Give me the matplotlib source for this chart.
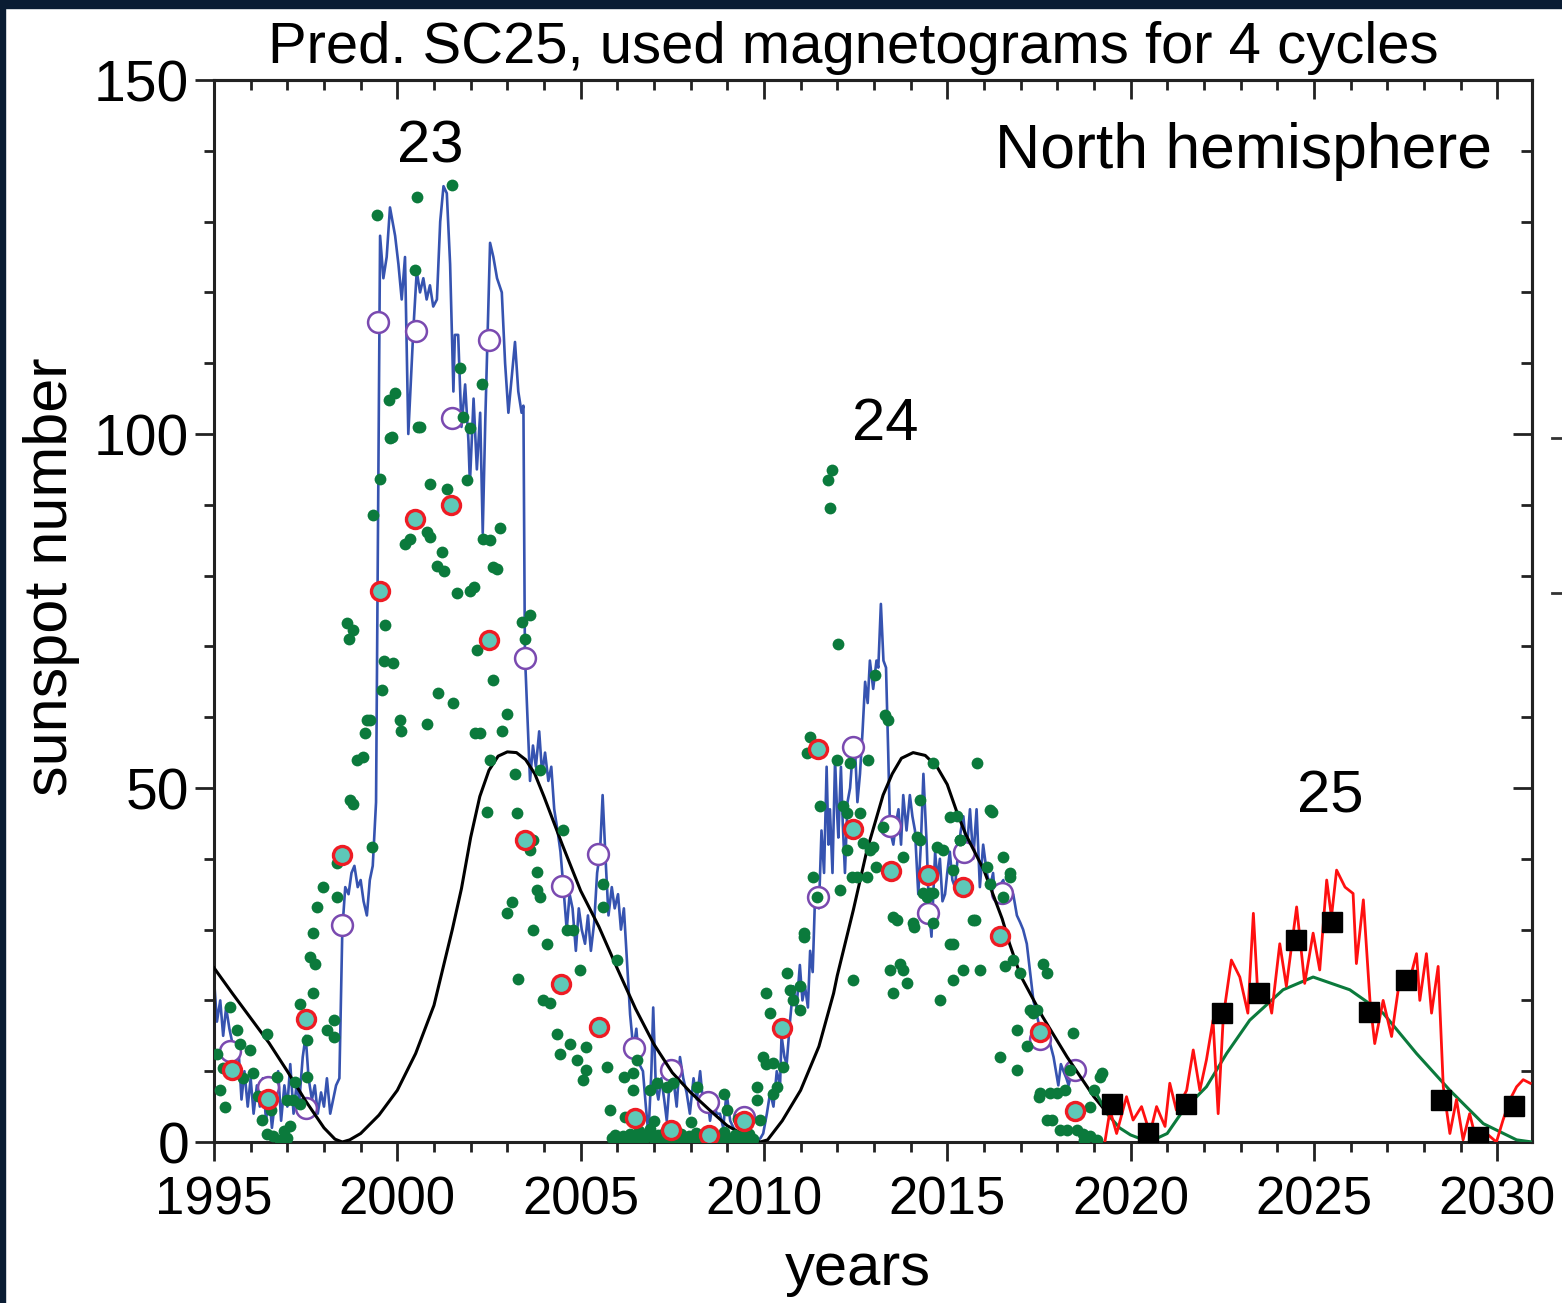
import matplotlib.pyplot as plt
from matplotlib.patches import Rectangle
from matplotlib.lines import Line2D

plt.rcParams['font.family'] = ['Liberation Sans', 'DejaVu Sans']

# observed monthly sunspot number, north hemisphere (blue line)
obs_year = [1995.00, 1995.08, 1995.17, 1995.25, 1995.33, 1995.42, 1995.50, 1995.58, 1995.67, 1995.75,
            1995.83, 1995.92, 1996.00, 1996.08, 1996.17, 1996.25, 1996.33, 1996.42, 1996.50, 1996.58,
            1996.67, 1996.75, 1996.83, 1996.92, 1997.00, 1997.08, 1997.17, 1997.25, 1997.33, 1997.42,
            1997.50, 1997.58, 1997.67, 1997.75, 1997.83, 1997.92, 1998.00, 1998.08, 1998.17, 1998.25,
            1998.33, 1998.42, 1998.50, 1998.58, 1998.67, 1998.75, 1998.83, 1998.92, 1999.00, 1999.08,
            1999.17, 1999.25, 1999.33, 1999.42, 1999.53, 1999.62, 1999.71, 1999.80, 1999.94, 2000.03,
            2000.12, 2000.21, 2000.30, 2000.44, 2000.53, 2000.62, 2000.71, 2000.80, 2000.89, 2000.98,
            2001.08, 2001.17, 2001.26, 2001.35, 2001.44, 2001.53, 2001.57, 2001.66, 2001.75, 2001.85,
            2001.94, 2001.98, 2002.08, 2002.17, 2002.26, 2002.33, 2002.40, 2002.53, 2002.62, 2002.72,
            2002.85, 2002.94, 2003.03, 2003.12, 2003.21, 2003.30, 2003.39, 2003.44, 2003.48, 2003.55,
            2003.62, 2003.70, 2003.78, 2003.87, 2003.95, 2004.03, 2004.12, 2004.20, 2004.28, 2004.37,
            2004.45, 2004.53, 2004.62, 2004.70, 2004.78, 2004.87, 2004.95, 2005.03, 2005.12, 2005.20,
            2005.28, 2005.37, 2005.45, 2005.53, 2005.60, 2005.68, 2005.76, 2005.85, 2005.93, 2006.02,
            2006.10, 2006.18, 2006.27, 2006.35, 2006.44, 2006.52, 2006.60, 2006.70, 2006.78, 2006.85,
            2006.93, 2006.98, 2007.05, 2007.12, 2007.20, 2007.28, 2007.35, 2007.45, 2007.55, 2007.62,
            2007.71, 2007.80, 2007.89, 2007.98, 2008.08, 2008.17, 2008.26, 2008.35, 2008.44, 2008.53,
            2008.62, 2008.71, 2008.80, 2008.89, 2008.98, 2009.08, 2009.17, 2009.26, 2009.35, 2009.44,
            2009.53, 2009.62, 2009.71, 2009.80, 2009.90, 2009.98, 2010.08, 2010.17, 2010.26, 2010.35,
            2010.44, 2010.48, 2010.56, 2010.62, 2010.71, 2010.80, 2010.89, 2010.98, 2011.05, 2011.12,
            2011.20, 2011.26, 2011.33, 2011.39, 2011.44, 2011.50, 2011.57, 2011.64, 2011.71, 2011.76,
            2011.80, 2011.87, 2011.94, 2012.00, 2012.03, 2012.10, 2012.15, 2012.21, 2012.28, 2012.35,
            2012.42, 2012.48, 2012.55, 2012.62, 2012.69, 2012.76, 2012.83, 2012.89, 2012.98, 2013.07,
            2013.12, 2013.19, 2013.26, 2013.33, 2013.39, 2013.44, 2013.53, 2013.60, 2013.67, 2013.74,
            2013.80, 2013.89, 2013.98, 2014.05, 2014.12, 2014.21, 2014.28, 2014.35, 2014.44, 2014.50,
            2014.57, 2014.67, 2014.73, 2014.80, 2014.87, 2014.94, 2015.00, 2015.07, 2015.14, 2015.21,
            2015.30, 2015.37, 2015.44, 2015.53, 2015.62, 2015.71, 2015.80, 2015.89, 2015.98, 2016.08,
            2016.17, 2016.25, 2016.30, 2016.40, 2016.53, 2016.62, 2016.71, 2016.80, 2016.90, 2016.99,
            2017.07, 2017.17, 2017.26, 2017.35, 2017.44, 2017.53, 2017.62, 2017.72, 2017.80, 2017.90,
            2018.03, 2018.10, 2018.17, 2018.25, 2018.31, 2018.40, 2018.50]
obs_ssn = [23, 17, 20, 15, 19, 16, 14, 11, 13, 6,
           10, 5, 9, 4, 8, 5, 9, 3, 7, 2,
           6, 10, 3, 8, 5, 11, 4, 8, 6, 12,
           15, 9, 6, 8, 4, 7, 5, 9, 4, 6,
           8, 9, 30, 36, 35, 38, 39, 36, 37, 34,
           32, 37, 39, 48, 128, 122, 125, 132, 128, 124,
           119, 125, 100, 115, 123, 120, 122, 119, 121, 118,
           119, 130, 135, 134, 124, 106, 114, 114, 101, 107,
           99, 93, 105, 95, 103, 86, 102, 127, 125, 122,
           120, 110, 103, 108, 113, 106, 103, 104, 69, 60,
           51, 56, 53, 58, 52, 55, 51, 53, 47, 44,
           41, 36, 30, 35, 33, 27, 33, 30, 28, 32,
           27, 31, 38, 41, 49, 40, 32, 36, 33, 35,
           30, 33, 25, 18, 13, 16, 11, 10, 5, 1,
           10, 19, 8, 6, 9, 6, 3, 10, 8, 5,
           12, 9, 7, 4, 9, 6, 10, 5, 7, 3,
           6, 4, 4, 2, 7, 3, 2, 1, 1, 0.5,
           1, 2, 0.5, 0.3, 0.5, 1.2, 4, 7, 5, 10,
           8, 15, 12, 11, 17, 22, 19, 25, 20, 22,
           19, 27, 24, 34, 35, 33, 44, 38, 53, 42,
           47, 38, 54, 46, 43, 53, 45, 38, 48, 50,
           55, 56, 48, 52, 58, 65, 62, 68, 64, 68,
           67, 76, 68, 67, 55, 44, 42, 45, 47, 42,
           49, 44, 49, 46, 44, 35, 42, 52, 42, 33,
           29, 41, 37, 40, 34, 35, 38, 41, 37, 36,
           41, 44, 46, 41, 47, 40, 47, 36, 42, 38,
           36, 38, 35, 36, 37, 34, 35, 35, 32, 31,
           30, 28, 24, 20, 18, 16, 15, 13.5, 14, 12,
           8, 11, 10, 9, 8, 10, 9]

# additional monthly values (green dots)
dot_year = [1995.07, 1995.16, 1995.25, 1995.30, 1995.44, 1995.62, 1995.71, 1995.80, 1995.98, 1996.07,
            1996.20, 1996.30, 1996.44, 1996.44, 1996.55, 1996.62, 1996.71, 1996.80, 1996.90, 1996.98,
            1997.00, 1997.07, 1997.16, 1997.20, 1997.35, 1997.35, 1997.53, 1997.53, 1997.62, 1997.71,
            1997.71, 1997.76, 1997.80, 1997.98, 1998.07, 1998.26, 1998.26, 1998.35, 1998.35, 1998.80,
            1999.30, 1998.71, 1998.90, 1999.07, 1999.12, 1999.17, 1999.25, 1999.57, 1999.65, 1999.89,
            1998.62, 1998.80, 1998.67, 1999.67, 1999.35, 1999.53, 1999.80, 1999.76, 1999.85, 1999.94,
            2000.56, 2000.62, 2000.07, 2000.10, 2000.80, 2001.12, 2001.53, 2002.12, 2002.26, 2002.54,
            2002.85, 2003.00, 2003.20, 2002.60, 2002.17, 2002.60, 2002.80, 2002.35, 2002.08, 2001.62,
            2001.21, 2001.26, 2001.08, 2000.90, 2000.80, 2000.21, 2000.35, 2001.35, 2000.90, 2001.90,
            2001.80, 2001.98, 2003.40, 2003.49, 2003.62, 1999.44, 2000.53, 2001.49, 2000.49, 2001.71,
            2002.30, 2002.53, 2002.72, 2001.98,
            2002.45, 2003.26, 2003.90, 2004.53, 2003.71, 2003.62, 2003.80, 2003.80, 2003.90, 2003.12,
            2003.00, 2003.71, 2004.08, 2003.30, 2004.62, 2004.80, 2004.98, 2003.98, 2004.17, 2004.35,
            2004.44, 2004.71, 2004.89, 2005.16, 2005.16, 2005.07,
            2005.62, 2005.62, 2005.98, 2005.71, 2005.80, 2006.17, 2006.44, 2006.44, 2006.53, 2007.08,
            2007.35, 2006.89, 2007.53, 2009.80, 2009.80, 2008.90, 2009.00, 2008.17, 2009.98, 2010.07,
            2010.26, 2009.89,
            2005.85, 2005.95, 2006.05, 2006.15, 2006.25, 2006.35, 2006.50, 2006.60, 2006.70, 2006.80,
            2006.90, 2007.00, 2007.10, 2007.20, 2007.30, 2007.40, 2007.55, 2007.65, 2007.75, 2007.85,
            2007.95, 2008.05, 2008.15, 2008.25, 2008.35, 2008.45, 2008.60, 2008.70, 2008.80, 2008.90,
            2009.00, 2009.10, 2009.20, 2009.30, 2009.40, 2009.50, 2009.60, 2009.70, 2006.20, 2007.00,
            2008.00, 2009.30,
            2010.07, 2010.17, 2010.62, 2010.71, 2010.80, 2010.98, 2010.98, 2011.08, 2011.35, 2011.44,
            2010.26, 2010.35, 2010.53, 2012.44,
            2012.03, 2013.03, 2013.30, 2013.39, 2011.26, 2011.17, 2011.98, 2012.35, 2012.85, 2011.53,
            2012.17, 2012.62, 2012.08, 2012.26, 2012.71, 2012.89, 2012.80, 2012.40, 2013.26, 2013.80,
            2014.17, 2014.26, 2014.62, 2015.80, 2015.07, 2014.71, 2014.89, 2015.35, 2016.17, 2016.53,
            2016.71, 2016.08, 2014.35, 2014.53, 2013.62, 2014.08, 2015.07, 2015.76, 2011.08,
            2011.85, 2011.76, 2011.80,
            2012.26, 2012.53, 2012.98, 2013.07, 2013.53, 2013.71, 2013.44, 2013.80, 2013.89, 2013.53,
            2014.07, 2014.62, 2014.26, 2014.44, 2014.62, 2014.80, 2015.17, 2015.44, 2015.89, 2015.71,
            2015.17, 2015.26, 2015.35, 2016.21, 2016.53, 2016.71, 2016.80, 2016.98, 2016.17, 2017.26,
            2017.35, 2016.89, 2017.17, 2016.44, 2016.89, 2017.53, 2017.62, 2017.71,
            2015.17, 2016.58, 2017.72, 2017.44, 2018.44, 2018.35, 2019.22, 2019.00, 2017.49, 2017.81,
            2018.00, 2018.22, 2017.85, 2018.08, 2018.26, 2018.53, 2018.72, 2018.90, 2019.08, 2018.90,
            2019.16, 2018.71]
dot_ssn = [12.5, 7.3, 10.5, 5.0, 19.0, 15.8, 13.9, 9.0, 13.0, 9.7,
           6.5, 3.1, 15.3, 1.2, 4.5, 0.8, 9.2, 0.3, 1.5, 5.9,
           0.5, 2.2, 5.9, 8.5, 5.4, 19.5, 14.4, 9.2, 26.1, 21.0,
           29.5, 25.2, 33.2, 36.0, 15.8, 17.2, 14.9, 34.6, 39.4, 47.8,
           41.7, 48.3, 54.0, 54.4, 57.7, 59.6, 59.6, 63.9, 68.0, 67.6,
           73.3, 72.3, 71.1, 73.0, 88.6, 93.7, 99.4, 104.8, 99.6, 105.8,
           101.0, 101.0, 59.6, 58.0, 59.0, 63.4, 62.0, 57.7, 57.7, 54.0,
           58.0, 60.5, 52.0, 65.2, 69.5, 81.2, 86.7, 85.2, 78.4, 77.5,
           83.4, 80.6, 81.3, 85.5, 86.2, 84.5, 85.2, 92.3, 93.0, 93.5,
           102.4, 100.8, 73.4, 71.1, 74.4, 130.9, 133.5, 135.2, 123.2, 109.3,
           107.1, 85.0, 81.0, 77.8,
           46.6, 46.4, 52.5, 44.0, 42.6, 41.2, 38.2, 35.6, 34.6, 33.9,
           32.3, 29.9, 28.0, 23.0, 29.9, 29.9, 24.3, 20.0, 19.6, 15.3,
           12.5, 13.9, 11.6, 13.4, 10.2, 8.7,
           36.5, 33.2, 25.7, 10.6, 4.5, 9.2, 9.7, 7.3, 11.6, 8.3,
           7.8, 7.3, 8.3, 7.8, 5.9, 6.8, 4.5, 7.8, 12.0, 11.0,
           6.8, 3.1,
           0.5, 1.0, 0.3, 0.8, 0.2, 1.2, 0.4, 1.5, 0.3, 0.8,
           1.8, 0.4, 1.0, 0.2, 1.4, 0.5, 0.9, 0.2, 1.2, 0.4,
           0.8, 0.3, 1.3, 0.4, 0.9, 0.2, 1.1, 0.5, 0.3, 1.4,
           0.6, 0.2, 1.0, 0.3, 0.8, 0.2, 1.2, 0.4, 3.5, 3.0,
           2.8, 3.2,
           21.0, 18.2, 23.8, 21.5, 20.0, 22.0, 18.6, 29.5, 37.5, 34.6,
           11.1, 7.8, 10.6, 22.9,
           70.4, 66.0, 60.3, 59.6, 57.2, 54.9, 54.0, 53.5, 54.0, 47.4,
           47.4, 46.4, 35.6, 41.2, 42.2, 41.2, 37.5, 37.5, 44.5, 40.3,
           43.1, 48.3, 53.5, 53.5, 45.9, 41.7, 41.2, 42.7, 46.9, 40.3,
           38.0, 38.9, 35.1, 35.1, 31.4, 30.4, 28.0, 31.4, 29.0,
           94.9, 93.5, 89.5,
           46.4, 37.5, 41.7, 38.9, 31.8, 25.2, 24.3, 24.3, 22.4, 21.0,
           30.9, 30.9, 42.6, 34.6, 35.1, 20.0, 22.9, 24.3, 24.3, 31.4,
           38.4, 46.0, 42.6, 46.6, 34.6, 37.5, 25.7, 23.8, 36.5, 18.6,
           18.2, 15.8, 13.5, 12.0, 10.2, 6.9, 25.2, 3.1,
           28.0, 24.8, 23.8, 18.7, 15.4, 10.2, 9.7, 7.4, 6.4, 6.9,
           6.9, 7.4, 3.1, 1.7, 1.7, 1.7, 0.3, 0.8, 0.3, 5.0,
           9.2, 1.2]

# yearly means, two sets (red-ringed and purple open circles)
red_year = [1995.49, 1996.47, 1997.51, 1998.49, 1999.53, 2000.48, 2001.46, 2002.50, 2003.48, 2004.47,
            2005.50, 2006.48, 2007.47, 2008.50, 2009.46, 2010.49, 2011.47, 2012.43, 2013.47, 2014.48,
            2015.43, 2016.44, 2017.53, 2018.49]
red_ssn = [10.2, 6.1, 17.4, 40.5, 77.8, 88.0, 90.0, 70.9, 42.7, 22.3,
           16.2, 3.4, 1.7, 1.0, 3.0, 16.1, 55.5, 44.2, 38.3, 37.7,
           36.0, 29.1, 15.5, 4.4]
pur_year = [1995.45, 1996.47, 1997.50, 1998.49, 1999.47, 2000.51, 2001.49, 2002.50, 2003.48, 2004.49,
            2005.47, 2006.46, 2007.47, 2008.48, 2009.46, 2011.47, 2012.43, 2013.44, 2014.48, 2015.47,
            2016.50, 2017.53, 2018.49]
pur_ssn = [12.8, 7.8, 4.8, 30.6, 115.8, 114.5, 102.3, 113.3, 68.4, 36.2,
           40.7, 13.3, 10.2, 5.6, 3.5, 34.6, 55.8, 44.6, 32.3, 41.0,
           35.2, 14.5, 10.1]

# model curve for cycles 23-24 (black)
mod_year = [1995.0, 1995.5, 1996.0, 1996.5, 1997.0, 1997.5, 1998.0, 1998.3, 1998.5, 1998.7,
            1999.0, 1999.5, 2000.0, 2000.5, 2001.0, 2001.5, 2001.75, 2002.0, 2002.25, 2002.5,
            2002.75, 2003.0, 2003.25, 2003.5, 2003.75, 2004.0, 2004.5, 2005.0, 2005.5, 2006.0,
            2006.5, 2007.0, 2007.5, 2008.0, 2008.5, 2009.0, 2009.5, 2009.9, 2010.1, 2010.5,
            2011.0, 2011.5, 2011.9, 2012.0, 2012.44, 2012.8, 2013.25, 2013.5, 2013.75, 2014.07,
            2014.4, 2014.72, 2015.0, 2015.27, 2015.5, 2016.0, 2016.5, 2016.7, 2017.0, 2017.6,
            2018.27, 2019.0, 2019.3]
mod_ssn = [24.6, 21.0, 17.5, 14.0, 10.0, 5.8, 2.0, 0.4, 0.0, 0.3,
           1.2, 3.8, 7.3, 12.5, 19.3, 30.0, 35.8, 43.0, 48.8, 52.5,
           54.5, 55.1, 55.0, 54.0, 52.0, 48.8, 42.0, 35.5, 30.4, 24.5,
           18.8, 13.8, 9.8, 7.0, 4.6, 2.3, 0.9, 0.0, 0.3, 3.0,
           7.3, 13.5, 21.0, 23.5, 32.8, 41.0, 49.0, 52.0, 54.2, 55.0,
           54.6, 53.0, 50.5, 46.5, 43.5, 38.4, 31.5, 28.0, 23.5, 17.7,
           12.0, 6.4, 4.5]

# SC25 prediction: smooth (green), monthly (red) and yearly (black squares)
sc25_year = [2019.0, 2019.36, 2019.7, 2020.0, 2020.5, 2021.0, 2021.44, 2022.07, 2022.62, 2023.25,
             2024.16, 2024.98, 2025.98, 2026.89, 2027.8, 2028.71, 2029.62, 2030.53, 2030.95]
sc25_ssn = [7.5, 4.0, 2.0, 1.0, 0.0, 1.2, 4.5, 7.8, 12.5, 17.2,
            21.5, 23.3, 21.5, 18.2, 12.5, 7.3, 2.6, 0.3, 0.0]
pred_year = [2019.30, 2019.44, 2019.62, 2019.89, 2020.07, 2020.30, 2020.53, 2020.71, 2020.94, 2021.07,
             2021.25, 2021.53, 2021.71, 2021.89, 2022.07, 2022.25, 2022.39, 2022.53, 2022.75, 2022.98,
             2023.20, 2023.35, 2023.48, 2023.70, 2023.85, 2024.07, 2024.25, 2024.53, 2024.75, 2024.98,
             2025.16, 2025.35, 2025.48, 2025.62, 2025.85, 2026.07, 2026.16, 2026.35, 2026.53, 2026.66,
             2026.89, 2027.12, 2027.35, 2027.57, 2027.80, 2027.89, 2028.07, 2028.21, 2028.39, 2028.53,
             2028.71, 2028.89, 2029.07, 2029.25, 2029.44, 2029.71, 2029.98, 2030.16, 2030.35, 2030.53,
             2030.71, 2030.90]
pred_ssn = [0.0, 4.5, 1.2, 6.4, 3.1, 5.0, 1.2, 5.0, 2.2, 8.3,
            4.5, 7.3, 13.0, 7.3, 11.6, 17.2, 4.0, 17.7, 25.7, 23.3,
            18.2, 32.3, 20.0, 22.0, 18.2, 28.0, 22.0, 33.2, 22.4, 29.5,
            24.3, 37.0, 31.8, 38.4, 36.0, 35.1, 25.2, 34.2, 20.0, 13.9,
            20.0, 14.9, 23.3, 22.0, 26.6, 20.0, 26.6, 18.2, 24.8, 7.8,
            1.2, 6.0, 0.3, 4.0, 0.0, 1.2, 0.0, 3.1, 6.0, 7.8,
            8.8, 8.3]
sq_year = [2019.49, 2020.48, 2021.50, 2022.50, 2023.50, 2024.50, 2025.50, 2026.50, 2027.50, 2028.47,
           2029.47, 2030.47]
sq_ssn = [5.3, 1.3, 5.4, 18.2, 21.0, 28.5, 31.1, 18.4, 22.9, 6.0,
          0.7, 5.1]

fig = plt.figure(figsize=(15.62, 13.03), dpi=100)
fig.patch.set_facecolor('white')
fig.patches.append(Rectangle((0, 1 - 8 / 1303), 1, 8 / 1303, transform=fig.transFigure,
                             color='#0a1c33', zorder=0))
fig.patches.append(Rectangle((0, 0), 5 / 1562, 1, transform=fig.transFigure,
                             color='#0a1c33', zorder=0))
# edge of the neighbouring panel
for yy in (438, 593):
    fig.lines.append(Line2D([1552 / 1562, 1562 / 1562], [1 - yy / 1303, 1 - yy / 1303],
                            transform=fig.transFigure, color='#333333', lw=2))

ax = fig.add_axes([214 / 1562, 1 - 1142 / 1303, (1532 - 214) / 1562, (1142 - 80) / 1303])

ax.plot(obs_year, obs_ssn, color='#3653b0', lw=1.9, zorder=2)
ax.plot(pur_year, pur_ssn, 'o', ms=15, mfc='white', mec='#7a4ab0', mew=1.8, zorder=3)
ax.plot(mod_year, mod_ssn, color='black', lw=2.2, zorder=4)
ax.plot(dot_year, dot_ssn, 'o', ms=8.5, color='#0b7a3c', mec='none', zorder=5)
ax.plot(red_year, red_ssn, 'o', ms=13, mfc='#5ec8b8', mec='#ee1c24', mew=2.4, zorder=6)

ax.plot(sc25_year, sc25_ssn, color='#0b7a3c', lw=2.2, zorder=4)
ax.plot(pred_year, pred_ssn, color='#ff1010', lw=2.0, zorder=5)
ax.plot(sq_year, sq_ssn, 's', ms=14, color='black', zorder=7)

ax.set_xlim(1995, 2030.95)
ax.set_ylim(0, 150)
ax.set_xticks(range(1995, 2031, 5))
ax.set_xticks(range(1995, 2031), minor=True)
ax.set_yticks([0, 50, 100, 150])
ax.set_yticks(range(0, 151, 10), minor=True)
ax.tick_params(which='both', direction='out', width=2, labelsize=38, color='#222222')
ax.tick_params(which='major', length=14)
ax.tick_params(which='minor', length=7)
ax.tick_params(axis='x', pad=10)
ax.tick_params(axis='y', pad=4, labelsize=41)

top = ax.secondary_xaxis('top')
top.set_xticks(range(1995, 2031, 5))
top.set_xticks(range(1995, 2031), minor=True)
top.tick_params(which='both', direction='in', width=2, labeltop=False, color='#222222')
top.tick_params(which='major', length=14)
top.tick_params(which='minor', length=7)
right = ax.secondary_yaxis('right')
right.set_yticks([0, 50, 100, 150])
right.set_yticks(range(0, 151, 10), minor=True)
right.tick_params(which='both', direction='in', width=2, labelright=False, color='#222222')
right.tick_params(which='major', length=14)
right.tick_params(which='minor', length=8)
for a in (ax, top, right):
    for s in a.spines.values():
        s.set_linewidth(2.2)
        s.set_color('#222222')

ax.text(2000.89, 138.4, '23', fontsize=43, ha='center', va='baseline')
ax.text(2013.3, 99.2, '24', fontsize=43, ha='center', va='baseline')
ax.text(2025.44, 46.6, '25', fontsize=43, ha='center', va='baseline')
ax.text(2029.85, 137.6, 'North hemisphere', fontsize=45, ha='right', va='baseline')

fig.text(853 / 1562, 1 - 63 / 1303, 'Pred. SC25, used magnetograms for 4 cycles',
         fontsize=41.8, ha='center', va='baseline')
fig.text(52 / 1562, 1 - 577 / 1303, 'sunspot number', fontsize=44, rotation=90,
         ha='center', va='center')
fig.text(858 / 1562, 1 - 1285 / 1303, 'years', fontsize=43, ha='center', va='baseline')

fig.savefig('out.png', dpi=100, facecolor='white')
